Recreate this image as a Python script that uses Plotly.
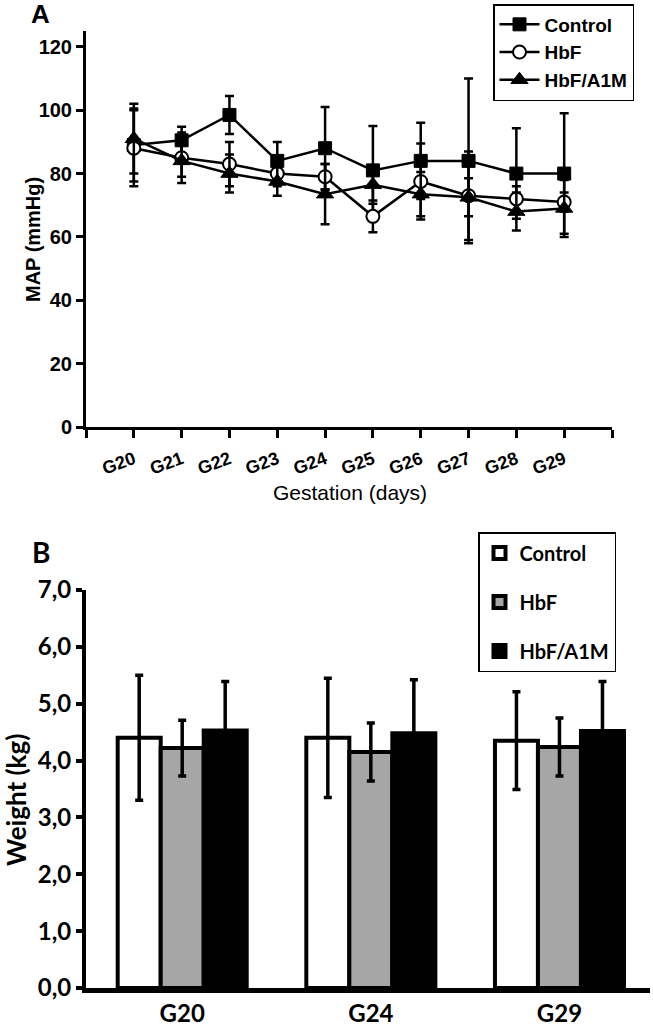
import plotly.graph_objects as go

# ---------------- Panel A data ----------------
days = ["G20", "G21", "G22", "G23", "G24", "G25", "G26", "G27", "G28", "G29"]
control_map = [89, 90.5, 98.5, 84, 88, 81, 84, 84, 80, 80]
control_map_err = [11.5, 4.3, 6, 6, 13, 14, 12, 26, 14.3, 19]
hbf_map = [88, 85, 83, 80, 79, 66.5, 77.5, 73, 72, 71]
hbf_map_err = [12, 8, 7, 4, 4, 5, 12, 14, 4, 3]
a1m_map = [91, 84, 80, 77.5, 73.5, 76.5, 73.5, 72.5, 68, 69]
a1m_map_err = [11, 5, 6, 4.5, 9.5, 6, 7, 6, 6, 9]
map_ticks = [0, 20, 40, 60, 80, 100, 120]

# ---------------- Panel B data ----------------
groups = ["G20", "G24", "G29"]
control_w = [4.40, 4.40, 4.35]
control_w_err = [1.10, 1.05, 0.86]
hbf_w = [4.22, 4.15, 4.24]
hbf_w_err = [0.49, 0.51, 0.51]
a1m_w = [4.53, 4.48, 4.52]
a1m_w_err = [0.86, 0.94, 0.87]
w_ticks = [0, 1, 2, 3, 4, 5, 6, 7]

W, H = 653, 1033


def px(x):
    return x / W


def py(y):
    return 1 - y / H


pos = list(range(1, len(days) + 1))
ARIAL = "Liberation Sans"
CAL = "Lato"

fig = go.Figure()


def err(vals):
    return dict(type="data", array=vals, visible=True, color="black",
                thickness=2.5, width=4.5)


series_a = [
    ("Control", control_map, control_map_err, dict(symbol="square", size=13, color="black",
                                                   line=dict(color="black", width=1))),
    ("HbF", hbf_map, hbf_map_err, dict(symbol="circle", size=13, color="white",
                                       line=dict(color="black", width=2))),
    ("HbF/A1M", a1m_map, a1m_map_err, dict(symbol="triangle-up", size=15, color="black",
                                           line=dict(color="black", width=1))),
]
for name, vals, e, mk in series_a:
    fig.add_trace(go.Scatter(
        x=pos, y=vals, name=name, mode="lines+markers",
        line=dict(color="black", width=2.5), marker=mk,
        error_y=err(e), xaxis="x", yaxis="y", legend="legend",
    ))


def berr(vals):
    return dict(type="data", array=vals, visible=True, color="black",
                thickness=3.5, width=4)


series_b = [
    ("Control", control_w, control_w_err, "white"),
    ("HbF", hbf_w, hbf_w_err, "#a6a6a6"),
    ("HbF/A1M", a1m_w, a1m_w_err, "black"),
]
for i, (name, vals, e, col) in enumerate(series_b):
    fig.add_trace(go.Bar(
        x=groups, y=vals, name=name,
        marker=dict(color=col, line=dict(color="black", width=4)),
        error_y=berr(e), xaxis="x2", yaxis="y2", legend="legend2",
        legendgroup="g%d" % i,
    ))

fig.update_layout(
    width=W, height=H,
    margin=dict(l=0, r=0, t=0, b=0, autoexpand=False),
    paper_bgcolor="white", plot_bgcolor="white",
    separators=",.",
    barmode="group", bargap=0.316, bargroupgap=0,
    showlegend=True,
    xaxis=dict(
        domain=[px(86), px(612)], anchor="y", automargin=False,
        range=[0, 11], tickmode="array",
        tickvals=list(range(0, 12)), ticktext=[""] + days + [""],
        tickangle=-20, ticks="outside", ticklen=8, tickwidth=2.5, tickcolor="black",
        showline=True, linecolor="black", linewidth=3, showgrid=False, zeroline=False,
        tickfont=dict(family=ARIAL, size=18, color="black", weight="bold"),
        ticklabelstandoff=4,
    ),
    yaxis=dict(
        domain=[py(427), py(31)], anchor="x", automargin=False,
        range=[0, 125], tickvals=map_ticks,
        ticks="outside", ticklen=7, tickwidth=2.5, tickcolor="black",
        showline=True, linecolor="black", linewidth=3, showgrid=False, zeroline=False,
        tickfont=dict(family=ARIAL, size=20, color="black", weight="bold"),
    ),
    xaxis2=dict(
        domain=[px(86), px(650)], anchor="y2", automargin=False,
        range=[-0.51, 2.48], ticks="",
        showline=True, linecolor="black", linewidth=5, showgrid=False, zeroline=False,
        tickfont=dict(family=CAL, size=24, color="black", weight="bold"),
    ),
    yaxis2=dict(
        domain=[py(988), py(590)], anchor="x2", automargin=False,
        range=[0, 7], tickvals=w_ticks, tickformat=".1f",
        ticks="outside", ticklen=6, tickwidth=3.5, tickcolor="black",
        showline=True, linecolor="black", linewidth=4, showgrid=False, zeroline=False,
        tickfont=dict(family=CAL, size=24, color="black", weight="bold"),
    ),
    legend=dict(
        x=px(493), y=py(4), xanchor="left", yanchor="top",
        bgcolor="white", bordercolor="black", borderwidth=1.5,
        font=dict(family=ARIAL, size=19, color="black", weight="bold"),
        itemwidth=40, tracegroupgap=0,
    ),
    legend2=dict(
        x=px(478), y=py(532), xanchor="left", yanchor="top",
        bgcolor="white", bordercolor="black", borderwidth=1.5,
        font=dict(family=CAL, size=20, color="black", weight="bold"),
        itemwidth=30, tracegroupgap=20, traceorder="grouped",
    ),
)

annos = [
    dict(text="<b>A</b>", x=px(40), y=py(14), font=dict(family=ARIAL, size=26)),
    dict(text="<b>B</b>", x=px(41), y=py(552), font=dict(family=CAL, size=28)),
    dict(text="<b>MAP (mmHg)</b>", x=px(33), y=py(240), textangle=-90,
         font=dict(family=ARIAL, size=20)),
    dict(text="Gestation (days)", x=px(350), y=py(493),
         font=dict(family=ARIAL, size=21)),
    dict(text="<b>Weight (kg)</b>", x=px(16), y=py(800), textangle=-90,
         font=dict(family=CAL, size=26)),
]
for a in annos:
    a["font"]["color"] = "black"
    fig.add_annotation(xref="paper", yref="paper", showarrow=False,
                       xanchor="center", yanchor="middle", **a)

fig.write_html("out.html", config={"displayModeBar": False},
               post_script="document.body.style.margin='0px';")
